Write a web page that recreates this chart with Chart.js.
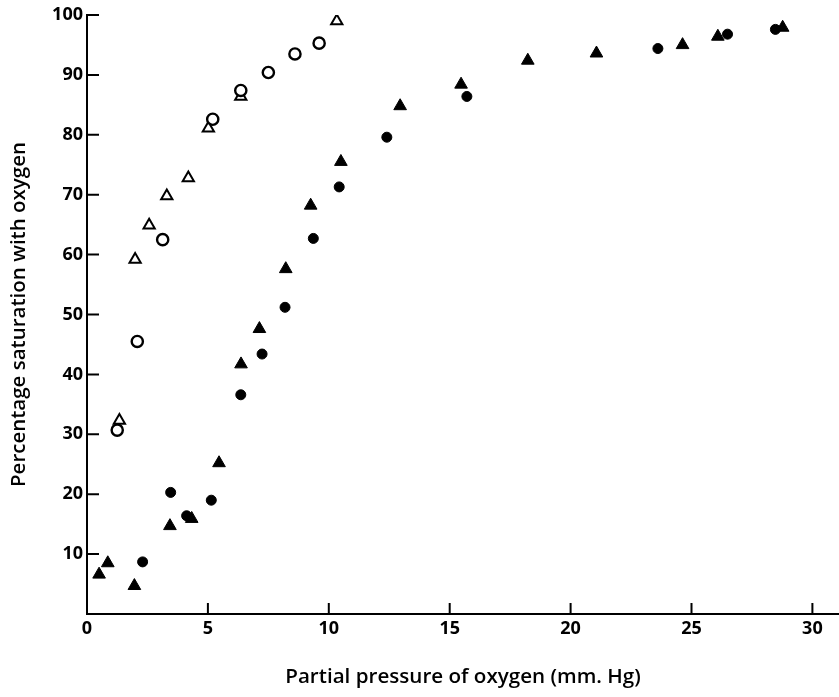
<!DOCTYPE html>
<html>
<head>
<meta charset="utf-8">
<script src="https://cdn.jsdelivr.net/npm/chart.js@4/dist/chart.umd.min.js"></script>
<style>
  html, body { margin: 0; padding: 0; background: #ffffff; }
  #wrap { width: 839px; height: 697px; position: relative; }
</style>
</head>
<body>
<div id="wrap"><canvas id="c" width="839" height="697"></canvas></div>
<script>
// Open circles
const openCircleX = [1.25, 2.08, 3.13, 5.2, 6.36, 7.5, 8.6, 9.6];
const openCircleY = [30.7, 45.5, 62.5, 82.6, 87.4, 90.4, 93.5, 95.3];
// Open triangles
const openTriangleX = [1.34, 1.99, 2.57, 3.3, 4.19, 5.02, 6.36, 10.33];
const openTriangleY = [32.3, 59.2, 64.9, 69.8, 72.8, 81.1, 86.4, 99.0];
// Filled triangles
const filledTriangleX = [0.5, 0.86, 1.96, 3.43, 4.33, 5.46, 6.37, 7.13, 8.22, 9.25, 10.5, 12.95, 15.47, 18.23, 21.07, 24.63, 26.09, 28.77];
const filledTriangleY = [6.6, 8.5, 4.7, 14.7, 15.9, 25.2, 41.7, 47.6, 57.6, 68.2, 75.5, 84.8, 88.4, 92.4, 93.6, 95.0, 96.4, 97.9];
// Filled circles
const filledCircleX = [2.3, 3.46, 4.12, 5.14, 6.36, 7.24, 8.19, 9.36, 10.43, 12.4, 15.71, 23.61, 26.49, 28.47];
const filledCircleY = [8.7, 20.3, 16.4, 19.0, 36.6, 43.4, 51.2, 62.7, 71.3, 79.6, 86.4, 94.4, 96.8, 97.6];

const xTickValues = [0, 5, 10, 15, 20, 25, 30];
const yTickValues = [10, 20, 30, 40, 50, 60, 70, 80, 90, 100];
const xTitle = 'Partial pressure of oxygen (mm. Hg)';
const yTitle = 'Percentage saturation with oxygen';

function pts(xs, ys) { return xs.map((x, i) => ({ x: x, y: ys[i] })); }

const FONT = '"Open Sans", Lato, sans-serif';

const inwardTicks = {
  id: 'inwardTicks',
  afterDraw(chart) {
    const ctx = chart.ctx;
    const xs = chart.scales.x, ys = chart.scales.y;
    ctx.save();
    ctx.strokeStyle = '#000';
    ctx.lineWidth = 2;
    ctx.beginPath();
    xTickValues.forEach(v => {
      if (v === 0) return;
      const px = xs.getPixelForValue(v);
      ctx.moveTo(px, ys.bottom);
      ctx.lineTo(px, ys.bottom - 11);
    });
    yTickValues.forEach(v => {
      const py = ys.getPixelForValue(v);
      ctx.moveTo(xs.left, py);
      ctx.lineTo(xs.left + 12, py);
    });
    ctx.stroke();
    ctx.restore();
  }
};

new Chart(document.getElementById('c'), {
  type: 'scatter',
  data: {
    datasets: [
      { label: 'open circles', data: pts(openCircleX, openCircleY), pointStyle: 'circle', pointRadius: 5.6, borderWidth: 2.4, borderColor: '#000', backgroundColor: '#fff' },
      { label: 'open triangles', data: pts(openTriangleX, openTriangleY), pointStyle: 'triangle', pointRadius: 6.5, borderWidth: 2, borderColor: '#000', backgroundColor: '#fff' },
      { label: 'filled circles', data: pts(filledCircleX, filledCircleY), pointStyle: 'circle', pointRadius: 5, borderWidth: 1, borderColor: '#000', backgroundColor: '#000' },
      { label: 'filled triangles', data: pts(filledTriangleX, filledTriangleY), pointStyle: 'triangle', pointRadius: 7.3, borderWidth: 1, borderColor: '#000', backgroundColor: '#000' }
    ]
  },
  options: {
    responsive: false,
    animation: false,
    layout: { autoPadding: false, padding: { top: 15, right: 0, left: 0, bottom: 0 } },
    plugins: { legend: { display: false }, tooltip: { enabled: false } },
    scales: {
      x: {
        type: 'linear', min: 0, max: 31.1,
        afterFit(s) { s.height = 83; s.paddingLeft = 0; s.paddingRight = 0; },
        afterBuildTicks(s) { s.ticks = xTickValues.map(v => ({ value: v })); },
        ticks: { includeBounds: false, color: '#000', padding: 4, font: { family: FONT, size: 18, weight: '700' }, maxRotation: 0 },
        grid: { drawOnChartArea: false, drawTicks: false },
        border: { color: '#000', width: 2 },
        title: { display: true, text: xTitle, color: '#000', font: { family: FONT, size: 20.6, weight: '600' }, padding: { top: 0, bottom: 8 } }
      },
      y: {
        type: 'linear', min: 0, max: 100,
        afterFit(s) { s.width = 87; },
        afterBuildTicks(s) { s.ticks = yTickValues.map(v => ({ value: v })); },
        ticks: { color: '#000', padding: 4, font: { family: FONT, size: 18, weight: '700' } },
        grid: { drawOnChartArea: false, drawTicks: false },
        border: { color: '#000', width: 2 },
        title: { display: true, text: yTitle, color: '#000', font: { family: FONT, size: 20.5, weight: '600' }, padding: { top: 7, bottom: 0 } }
      }
    }
  },
  plugins: [inwardTicks]
});
</script>
</body>
</html>
